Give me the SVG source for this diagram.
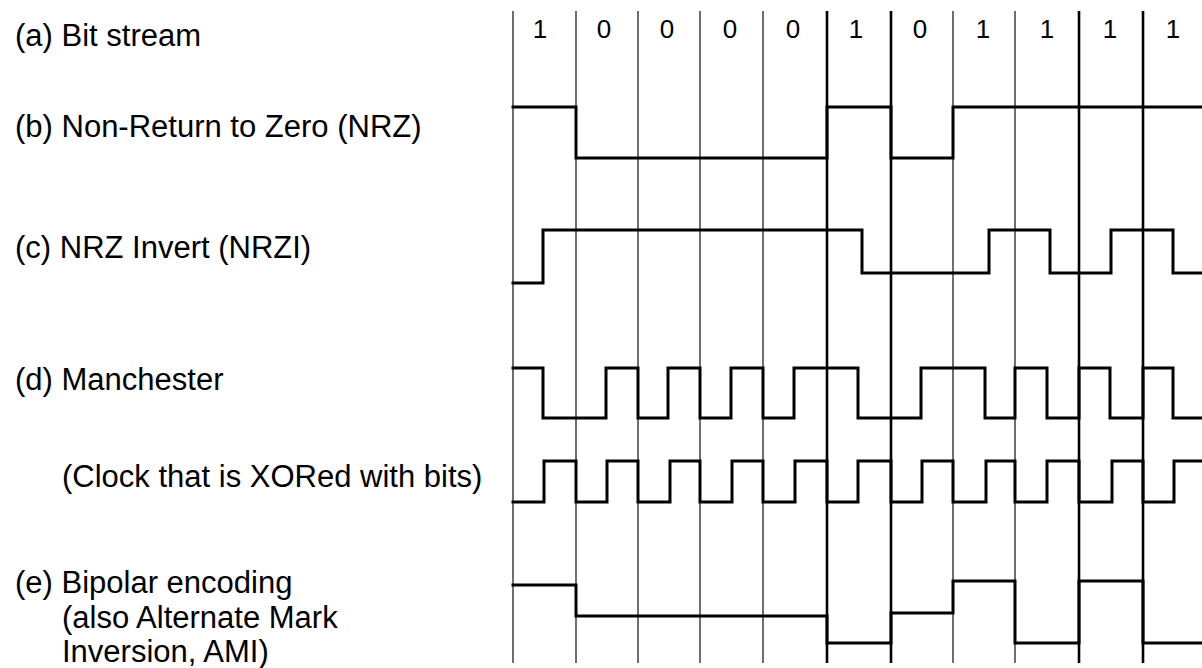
<svg xmlns="http://www.w3.org/2000/svg" width="1202" height="668" viewBox="0 0 1202 668">
<style>
text{font-family:"Liberation Sans",Arial,Helvetica,sans-serif;fill:#000}
.lbl{font-size:31px}
.dig{font-size:26px;text-anchor:middle}
.grid{stroke:#222;stroke-width:1.3;fill:none}
.gridb{stroke:#000;stroke-width:2.6;fill:none}
.wave{stroke:#000;stroke-width:3;fill:none;stroke-linejoin:miter;stroke-linecap:square}
</style>
<rect width="1202" height="668" fill="#fff"/>
<g id="grid">
<path class="grid" d="M513,11V663M576,11V663M638,11V663M700,11V663M763,11V663M953,11V663M1015,11V663"/>
<path class="gridb" d="M827,11V663M891,11V663M1079,11V663M1143,11V663"/>
</g>
<g id="bitstream">
<text class="lbl" x="15" y="46">(a) Bit stream</text>
<text class="dig" x="540" y="38">1</text>
<text class="dig" x="604" y="38">0</text>
<text class="dig" x="667" y="38">0</text>
<text class="dig" x="730" y="38">0</text>
<text class="dig" x="793" y="38">0</text>
<text class="dig" x="856" y="38">1</text>
<text class="dig" x="920" y="38">0</text>
<text class="dig" x="983" y="38">1</text>
<text class="dig" x="1047" y="38">1</text>
<text class="dig" x="1110" y="38">1</text>
<text class="dig" x="1173" y="38">1</text>
</g>
<g id="nrz">
<text class="lbl" x="15" y="137">(b) Non-Return to Zero (NRZ)</text>
<path class="wave" d="M513,107H576V158H827V107H891V158H953V107H1202"/>
</g>
<g id="nrzi">
<text class="lbl" x="15" y="258">(c) NRZ Invert (NRZI)</text>
<path class="wave" d="M513,283H543V230H862V273H989V230H1050V273H1111V230H1173V273H1202"/>
</g>
<g id="manchester">
<text class="lbl" x="15" y="390">(d) Manchester</text>
<path class="wave" d="M513,368H543V418H606V368H638V418H668V368H700V418H731V368H763V418H794V368H858V418H921V368H985V418H1015V368H1047V418H1079V368H1110V418H1143V368H1173V418H1202"/>
</g>
<g id="clock">
<text class="lbl" x="62" y="487">(Clock that is XORed with bits)</text>
<path class="wave" d="M513,502H544V461H576V502H607V461H638V502H670V461H700V502H732V461H763V502H795V461H827V502H858V461H891V502H922V461H953V502H986V461H1015V502H1047V461H1079V502H1112V461H1143V502H1174V461H1202"/>
</g>
<g id="bipolar">
<text class="lbl" x="15" y="593">(e) Bipolar encoding</text>
<text class="lbl" x="62" y="628">(also Alternate Mark</text>
<text class="lbl" x="62" y="662">Inversion, AMI)</text>
<path class="wave" d="M513,585H576V616H827V643H891V613H953V581H1015V643H1079V581H1143V643H1202"/>
</g>
</svg>
